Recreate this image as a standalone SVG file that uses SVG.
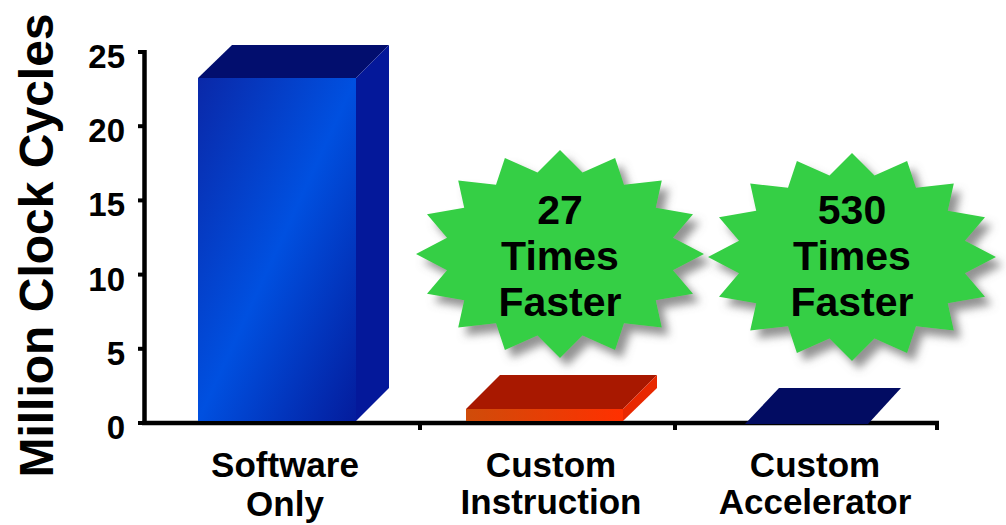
<svg xmlns="http://www.w3.org/2000/svg" xmlns:xlink="http://www.w3.org/1999/xlink" width="1006" height="525" viewBox="0 0 1006 525">
  <defs>
    <style>
      text { font-family: "Liberation Sans", Arial, sans-serif; font-weight: bold; fill: #000; }
      .tick-label { font-size: 33px; text-anchor: end; }
      .cat { font-size: 35px; text-anchor: middle; }
      .burst-text { font-size: 41px; text-anchor: middle; }
      .axis { stroke: #000; stroke-width: 4.5; fill: none; }
      .tick { stroke: #000; stroke-width: 4; fill: none; }
    </style>
    <linearGradient id="blueFront" x1="0" y1="0" x2="1" y2="1">
      <stop offset="0" stop-color="#0A28A8"/>
      <stop offset="0.5" stop-color="#0050E0"/>
      <stop offset="1" stop-color="#041C9C"/>
    </linearGradient>
    <linearGradient id="redFront" x1="0" y1="0" x2="1" y2="0">
      <stop offset="0" stop-color="#CF4C0A"/>
      <stop offset="1" stop-color="#FF3000"/>
    </linearGradient>
    <filter id="burstShadow" x="-20%" y="-20%" width="150%" height="150%">
      <feGaussianBlur in="SourceAlpha" stdDeviation="4"/>
      <feOffset dx="7" dy="8" result="blur"/>
      <feFlood flood-color="#6E6E6E" flood-opacity="0.75"/>
      <feComposite in2="blur" operator="in"/>
      <feMerge>
        <feMergeNode/>
        <feMergeNode in="SourceGraphic"/>
      </feMerge>
    </filter>
    <!-- 16-point burst, centred on the origin -->
    <polygon id="burst" fill="#36CF44" points="0,-104 22.5,-81.6 55.1,-96.1 64,-69.2 101.8,-73.5 95.8,-46.2 133,-39.8 113,-16.2 144,0 113,16.2 133,39.8 95.8,46.2 101.8,73.5 64,69.2 55.1,96.1 22.5,81.6 0,104 -22.5,81.6 -55.1,96.1 -64,69.2 -101.8,73.5 -95.8,46.2 -133,39.8 -113,16.2 -144,0 -113,-16.2 -133,-39.8 -95.8,-46.2 -101.8,-73.5 -64,-69.2 -55.1,-96.1 -22.5,-81.6"/>
  </defs>

  <rect width="1006" height="525" fill="#FFFFFF"/>

  <!-- axes and ticks -->
  <g id="axes">
    <line class="axis" x1="144.5" y1="50" x2="144.5" y2="425"/>
    <line class="axis" x1="142" y1="423" x2="939" y2="423"/>
    <g class="tick">
      <line x1="138" y1="52" x2="145" y2="52"/>
      <line x1="138" y1="126.2" x2="145" y2="126.2"/>
      <line x1="138" y1="200.4" x2="145" y2="200.4"/>
      <line x1="138" y1="274.6" x2="145" y2="274.6"/>
      <line x1="138" y1="348.8" x2="145" y2="348.8"/>
      <line x1="138" y1="423" x2="145" y2="423"/>
      <line x1="420" y1="423" x2="420" y2="430"/>
      <line x1="675" y1="423" x2="675" y2="430"/>
      <line x1="937" y1="423" x2="937" y2="430"/>
    </g>
    <text class="tick-label" x="125" y="68">25</text>
    <text class="tick-label" x="125" y="142.2">20</text>
    <text class="tick-label" x="125" y="216.4">15</text>
    <text class="tick-label" x="125" y="290.6">10</text>
    <text class="tick-label" x="125" y="364.8">5</text>
    <text class="tick-label" x="125" y="439">0</text>
    <text transform="translate(53,245.5) rotate(-90)" x="0" y="0" font-size="48" text-anchor="middle">Million Clock Cycles</text>
  </g>

  <!-- Software Only -->
  <g id="bar-software">
    <rect x="198" y="78" width="158" height="343" fill="url(#blueFront)"/>
    <polygon points="198,78 232,45 389,45 356,78" fill="#020E6E"/>
    <polygon points="356,78 389,45 389,388 356,421" fill="#04189A"/>
    <text class="cat" x="285" y="477">Software</text>
    <text class="cat" x="285" y="516">Only</text>
  </g>

  <!-- Custom Instruction -->
  <g id="bar-instruction">
    <rect x="466" y="409" width="157" height="12" fill="url(#redFront)"/>
    <polygon points="466,409 500,375 657,375 623,409" fill="#A81800"/>
    <polygon points="623,409 657,375 657,388 623,421" fill="#E82800"/>
    <text class="cat" x="551" y="477">Custom</text>
    <text class="cat" x="551" y="514">Instruction</text>
  </g>

  <!-- Custom Accelerator -->
  <g id="bar-accelerator">
    <polygon points="745,424 779,388 901,388 868,424" fill="#020C62"/>
    <text class="cat" x="815" y="477">Custom</text>
    <text class="cat" x="815" y="514">Accelerator</text>
  </g>

  <!-- speed-up callouts -->
  <g id="burst-27">
    <use xlink:href="#burst" href="#burst" transform="translate(560,254)" filter="url(#burstShadow)"/>
    <text class="burst-text" x="560" y="224">27</text>
    <text class="burst-text" x="560" y="270">Times</text>
    <text class="burst-text" x="560" y="316">Faster</text>
  </g>
  <g id="burst-530">
    <use xlink:href="#burst" href="#burst" transform="translate(852,257)" filter="url(#burstShadow)"/>
    <text class="burst-text" x="852" y="224">530</text>
    <text class="burst-text" x="852" y="270">Times</text>
    <text class="burst-text" x="852" y="316">Faster</text>
  </g>
</svg>
